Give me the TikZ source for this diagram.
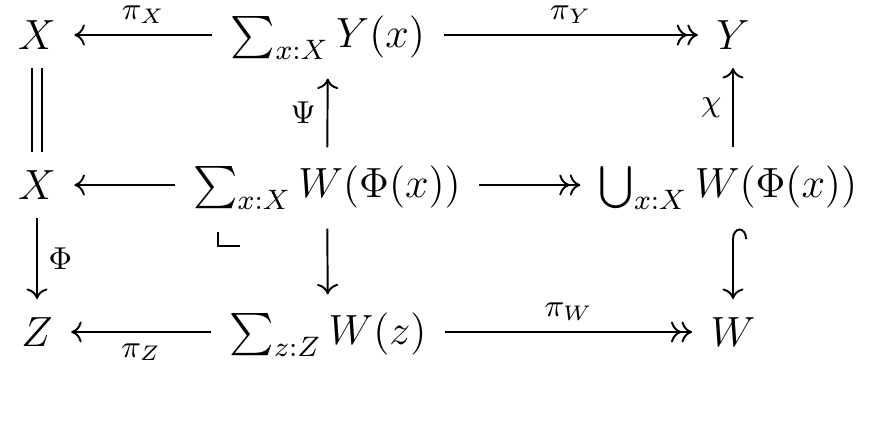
\documentclass[tikz,border=0pt]{standalone}
\usepackage{amsmath}
\usepackage{amssymb}
\usetikzlibrary{arrows.meta}
\begin{document}
\begin{tikzpicture}[x=0.01cm,y=-0.01cm,font=\large,line width=0.55pt]
  \tikzstyle{every node}=[inner sep=5pt]
  \tikzstyle{map}=[-{To[length=3pt,width=6pt]}]
  \tikzstyle{epi}=[-{To[length=3pt,width=6pt] To[length=3pt,width=6pt]}]
  \tikzstyle{mono}=[{Hooks[right,length=3pt,width=8pt]}-{To[length=3pt,width=6pt]}]
  \tikzstyle{lab}=[font=\small,inner sep=3pt]
  \useasboundingbox (0,0) rectangle (882,446);
  % top row
  \node (X1) at (37,35) {$X$};
  \node (SY) at (328,38) {$\sum_{x:X} Y(x)$};
  \node (Y) at (733,35) {$Y$};
  % middle row
  \node (X2) at (37,185) {$X$};
  \node (SW) at (327,188) {$\sum_{x:X} W(\Phi(x))$};
  \node (U) at (728,188) {$\bigcup_{x:X} W(\Phi(x))$};
  % bottom row
  \node (Z) at (37,332) {$Z$};
  \node (SZ) at (328,335) {$\sum_{z:Z} W(z)$};
  \node (W) at (733,332) {$W$};
  % horizontal maps
  \draw[map] (SY.west |- X1) -- node[lab,above] {$\pi_X$} (X1);
  \draw[epi] (SY.east |- Y) -- node[lab,above] {$\pi_Y$} (Y);
  \draw[map] (SW.west |- X2) -- (X2);
  \draw[epi] (SW.east |- X2) -- (U.west |- X2);
  \draw[map] (SZ.west |- Z) -- node[lab,below] {$\pi_Z$} (Z);
  \draw[epi] (SZ.east |- W) -- node[lab,above] {$\pi_W$} (W);
  % vertical maps
  \draw[double,double distance=2.5pt,line width=0.5pt] (X1) -- (X2);
  \draw[map] (X2) -- node[lab,right] {$\Phi$} (Z);
  \draw[map] (SW) -- node[lab,left] {$\Psi$} (SY);
  \draw[map] (SW) -- (SZ);
  \draw[map] (U.north -| Y.south) -- node[lab,left] {$\chi$} (Y);
  \draw[mono] (U.south -| W.north) -- (W);
  % pullback corner
  \coordinate (pb) at (218,246);
  \draw[line width=0.7pt] (218,232) -- (pb) -- (240,246);
\end{tikzpicture}
\end{document}
